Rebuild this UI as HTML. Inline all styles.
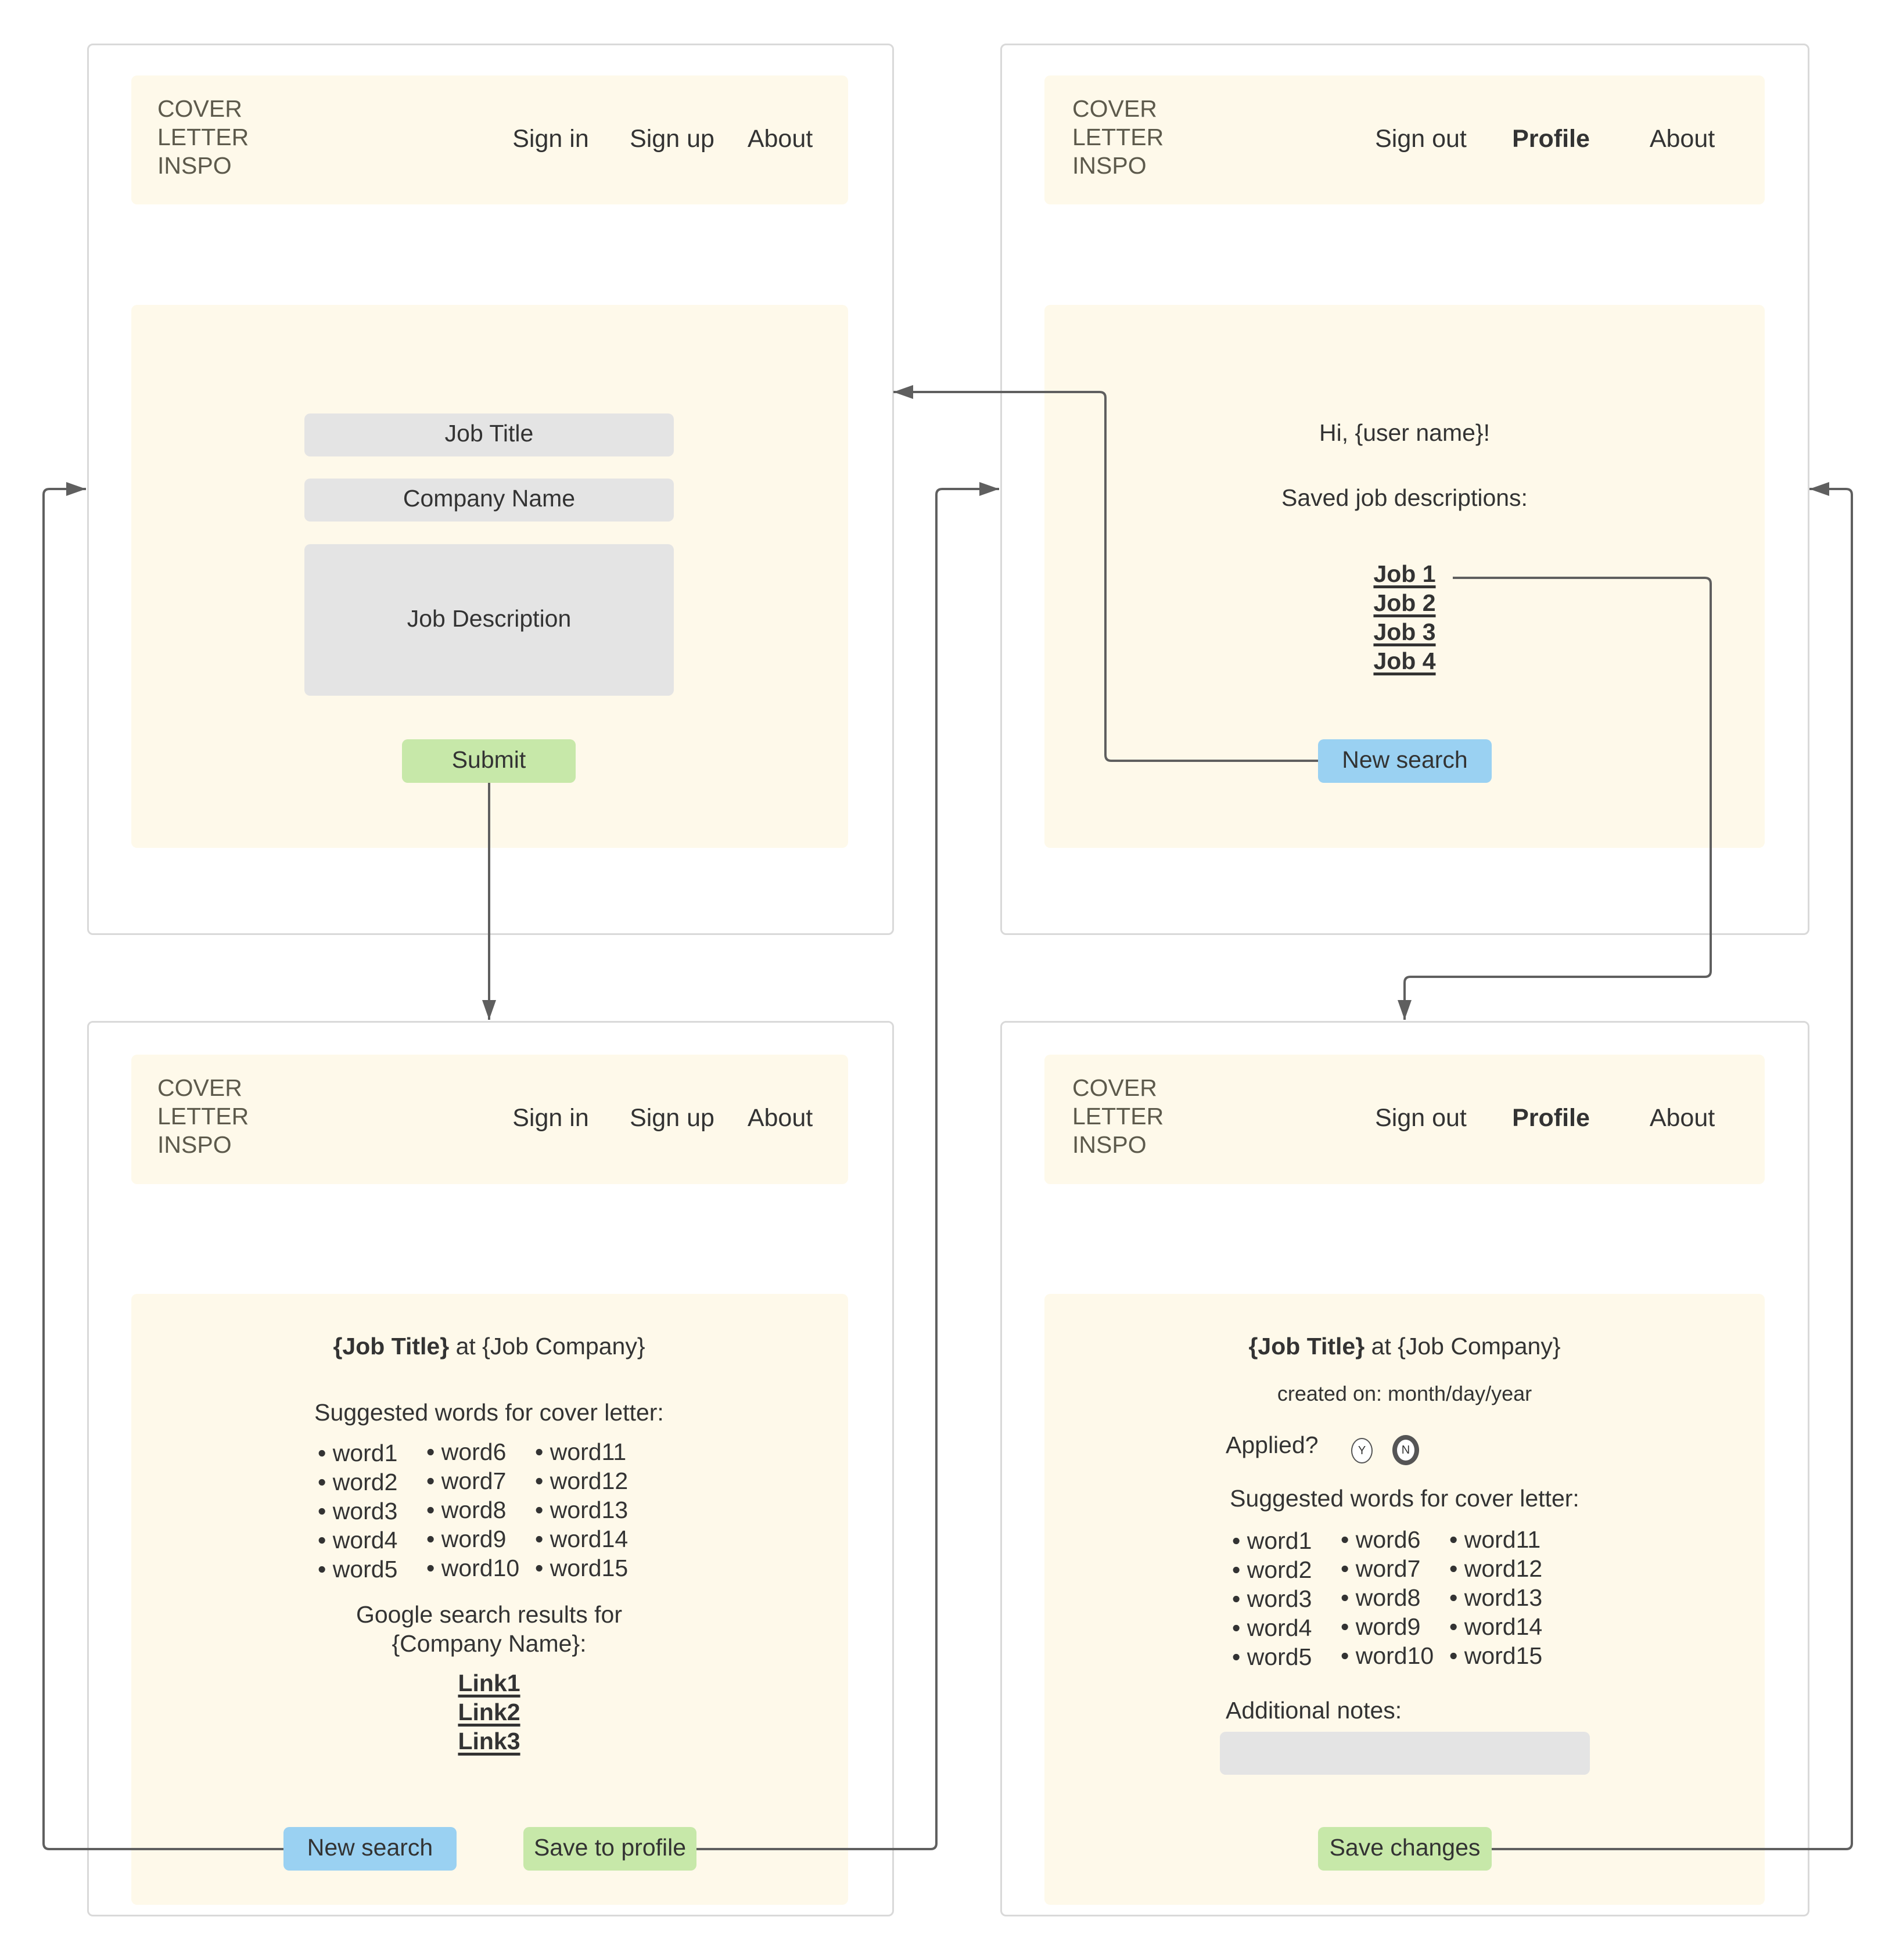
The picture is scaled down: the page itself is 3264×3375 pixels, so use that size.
<!DOCTYPE html>
<html><head><meta charset="utf-8"><style>
body{margin:0;width:3264px;height:3375px;background:#fff;position:relative;overflow:hidden;font-family:"Liberation Sans",sans-serif;color:#333}
.a{position:absolute}
.frame{position:absolute;border:3px solid #d9d9d9;border-radius:10px;box-sizing:border-box;background:#fff}
.y{position:absolute;background:#fef9ea;border-radius:10px}
.logo{position:absolute;font-size:41px;line-height:49px;color:#5d5a4c}
.nav{position:absolute;font-size:43px;line-height:50px;text-align:center;width:300px;margin-left:-150px}
.in{position:absolute;background:#e4e4e4;border-radius:10px;font-size:41px;text-align:center}
.btn{position:absolute;border-radius:10px;font-size:41px;text-align:center;line-height:74px}
.c{position:absolute;text-align:center;width:1200px;margin-left:-600px;font-size:41px;line-height:50px}
.w{position:absolute;font-size:41px;line-height:50px;white-space:nowrap}
u{text-decoration-thickness:5px;text-underline-offset:6px}
</style></head><body>

<!-- frames -->
<div class="frame" style="left:150px;top:75px;width:1389px;height:1535px"></div>
<div class="frame" style="left:1722px;top:75px;width:1393px;height:1535px"></div>
<div class="frame" style="left:150px;top:1758px;width:1389px;height:1542px"></div>
<div class="frame" style="left:1722px;top:1758px;width:1393px;height:1542px"></div>

<!-- TL -->
<div class="y" style="left:226px;top:130px;width:1234px;height:222px"></div>
<div class="logo" style="left:271px;top:163px">COVER<br>LETTER<br>INSPO</div>
<div class="nav" style="left:948px;top:214px">Sign in</div>
<div class="nav" style="left:1157px;top:214px">Sign up</div>
<div class="nav" style="left:1343px;top:214px">About</div>
<div class="y" style="left:226px;top:525px;width:1234px;height:935px"></div>
<div class="in" style="left:524px;top:712px;width:636px;height:74px;line-height:68px">Job Title</div>
<div class="in" style="left:524px;top:824px;width:636px;height:74px;line-height:68px">Company Name</div>
<div class="in" style="left:524px;top:937px;width:636px;height:261px;line-height:256px">Job Description</div>
<div class="btn" style="left:692px;top:1273px;width:299px;height:75px;background:#c7e8a9;line-height:70px">Submit</div>

<!-- TR -->
<div class="y" style="left:1798px;top:130px;width:1240px;height:222px"></div>
<div class="logo" style="left:1846px;top:163px">COVER<br>LETTER<br>INSPO</div>
<div class="nav" style="left:2446px;top:214px">Sign out</div>
<div class="nav" style="left:2670px;top:214px;font-weight:bold">Profile</div>
<div class="nav" style="left:2896px;top:214px">About</div>
<div class="y" style="left:1798px;top:525px;width:1240px;height:935px"></div>
<div class="c" style="left:2418px;top:720px">Hi, {user name}!</div>
<div class="c" style="left:2418px;top:832px">Saved job descriptions:</div>
<div class="c" style="left:2418px;top:963px;font-weight:bold"><u>Job 1</u></div>
<div class="c" style="left:2418px;top:1013px;font-weight:bold"><u>Job 2</u></div>
<div class="c" style="left:2418px;top:1063px;font-weight:bold"><u>Job 3</u></div>
<div class="c" style="left:2418px;top:1113px;font-weight:bold"><u>Job 4</u></div>
<div class="btn" style="left:2269px;top:1273px;width:299px;height:75px;background:#9ad1f2;line-height:70px">New search</div>

<!-- BL -->
<div class="y" style="left:226px;top:1816px;width:1234px;height:223px"></div>
<div class="logo" style="left:271px;top:1849px">COVER<br>LETTER<br>INSPO</div>
<div class="nav" style="left:948px;top:1900px">Sign in</div>
<div class="nav" style="left:1157px;top:1900px">Sign up</div>
<div class="nav" style="left:1343px;top:1900px">About</div>
<div class="y" style="left:226px;top:2228px;width:1234px;height:1052px"></div>
<div class="c" style="left:842px;top:2293px"><b>{Job Title}</b> at {Job Company}</div>
<div class="c" style="left:842px;top:2407px">Suggested words for cover letter:</div>
<div class="w" style="left:547px;top:2477px">• word1<br>• word2<br>• word3<br>• word4<br>• word5</div>
<div class="w" style="left:734px;top:2475px">• word6<br>• word7<br>• word8<br>• word9<br>• word10</div>
<div class="w" style="left:921px;top:2475px">• word11<br>• word12<br>• word13<br>• word14<br>• word15</div>
<div class="c" style="left:842px;top:2755px">Google search results for<br>{Company Name}:</div>
<div class="c" style="left:842px;top:2873px;font-weight:bold"><u>Link1</u></div>
<div class="c" style="left:842px;top:2923px;font-weight:bold"><u>Link2</u></div>
<div class="c" style="left:842px;top:2973px;font-weight:bold"><u>Link3</u></div>
<div class="btn" style="left:488px;top:3146px;width:298px;height:75px;background:#9ad1f2;line-height:70px">New search</div>
<div class="btn" style="left:901px;top:3146px;width:298px;height:75px;background:#c7e8a9;line-height:70px">Save to profile</div>

<!-- BR -->
<div class="y" style="left:1798px;top:1816px;width:1240px;height:223px"></div>
<div class="logo" style="left:1846px;top:1849px">COVER<br>LETTER<br>INSPO</div>
<div class="nav" style="left:2446px;top:1900px">Sign out</div>
<div class="nav" style="left:2670px;top:1900px;font-weight:bold">Profile</div>
<div class="nav" style="left:2896px;top:1900px">About</div>
<div class="y" style="left:1798px;top:2228px;width:1240px;height:1052px"></div>
<div class="c" style="left:2418px;top:2293px"><b>{Job Title}</b> at {Job Company}</div>
<div class="c" style="left:2418px;top:2375px;font-size:36px">created on: month/day/year</div>
<div class="w" style="left:2110px;top:2463px">Applied?</div>
<div class="a" style="left:2326px;top:2476px;width:37px;height:44px;border:2px solid #555;border-radius:50%;box-sizing:border-box;background:#fff;font-size:20px;text-align:center;line-height:40px">Y</div>
<div class="a" style="left:2397px;top:2471px;width:46px;height:52px;border:8px solid #555;border-radius:50%;box-sizing:border-box;background:#fff;font-size:20px;text-align:center;line-height:37px">N</div>
<div class="c" style="left:2418px;top:2555px">Suggested words for cover letter:</div>
<div class="w" style="left:2121px;top:2628px">• word1<br>• word2<br>• word3<br>• word4<br>• word5</div>
<div class="w" style="left:2308px;top:2626px">• word6<br>• word7<br>• word8<br>• word9<br>• word10</div>
<div class="w" style="left:2495px;top:2626px">• word11<br>• word12<br>• word13<br>• word14<br>• word15</div>
<div class="w" style="left:2110px;top:2920px">Additional notes:</div>
<div class="in" style="left:2100px;top:2982px;width:637px;height:74px"></div>
<div class="btn" style="left:2269px;top:3146px;width:299px;height:75px;background:#c7e8a9;line-height:70px">Save changes</div>

<!-- connectors -->
<svg class="a" style="left:0;top:0" width="3264" height="3375">
<defs><marker id="m" markerWidth="34" markerHeight="24" refX="34" refY="12" orient="auto" markerUnits="userSpaceOnUse"><path d="M0,0 L34,12 L0,24 Z" fill="#5f5f5f"/></marker></defs>
<g fill="none" stroke="#5f5f5f" stroke-width="4">
<path d="M842,1348 V1756" marker-end="url(#m)"/>
<path d="M2269,1310 H1913 Q1903,1310 1903,1300 V685 Q1903,675 1893,675 H1538" marker-end="url(#m)"/>
<path d="M2501,995 H2935 Q2945,995 2945,1005 V1672 Q2945,1682 2935,1682 H2428 Q2418,1682 2418,1692 V1756" marker-end="url(#m)"/>
<path d="M488,3184 H85 Q75,3184 75,3174 V852 Q75,842 85,842 H148" marker-end="url(#m)"/>
<path d="M1199,3184 H1602 Q1612,3184 1612,3174 V852 Q1612,842 1622,842 H1720" marker-end="url(#m)"/>
<path d="M2568,3184 H3178 Q3188,3184 3188,3174 V852 Q3188,842 3178,842 H3115" marker-end="url(#m)"/>
</g></svg>
</body></html>
